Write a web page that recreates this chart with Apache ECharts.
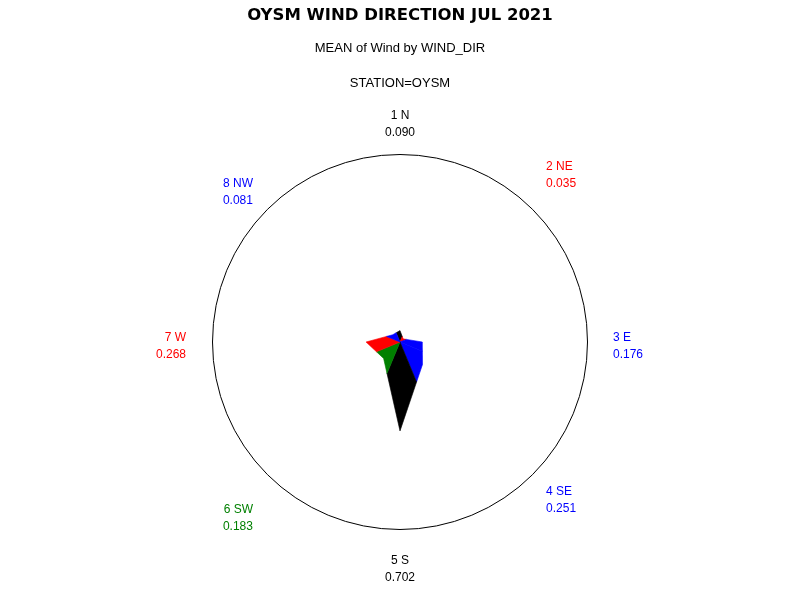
<!DOCTYPE html>
<html>
<head>
<meta charset="utf-8">
<script src="https://cdn.jsdelivr.net/npm/echarts@6/dist/echarts.min.js"></script>
<style>html,body{margin:0;padding:0;background:#fff}#c{width:800px;height:600px}</style>
</head>
<body>
<div id="c"></div>
<script>
// ---- data ----
var dirNames  = ['1 N', '2 NE', '3 E', '4 SE', '5 S', '6 SW', '7 W', '8 NW'];
var dirValues = [0.090, 0.035, 0.176, 0.251, 0.702, 0.183, 0.268, 0.081];
var dirLabels = ['0.090', '0.035', '0.176', '0.251', '0.702', '0.183', '0.268', '0.081'];
var dirColors = ['#000000', '#ff0000', '#0000ff', '#0000ff', '#000000', '#008000', '#ff0000', '#0000ff'];

// ---- layout (pixels, not data) ----
var RMAX = 1.48;
var labelRadiusPx = 215;
var polarRadiusPx = 187.5;
var labelNudge = [[0,-3],[-6,-15],[-2,4],[-6,6],[0,12],[5,24],[1,4],[5,2]];

var N = dirNames.length;
var step = 360 / N;
var seriesData = dirValues.map(function (v, i) { return [v, i * step, i]; });

function bisectR(r1, r2) {
  if (r1 + r2 === 0) return 0;
  return 2 * r1 * r2 * Math.cos(Math.PI / N) / (r1 + r2);
}

var chart = echarts.init(document.getElementById('c'));
chart.setOption({
  animation: false,
  backgroundColor: '#ffffff',
  title: [
    { text: 'OYSM WIND DIRECTION JUL 2021', left: 'center', top: 2,
      textStyle: { fontFamily: 'DejaVu Sans', fontWeight: 'bold', fontSize: 16.5, color: '#000' } },
    { text: 'MEAN of Wind by WIND_DIR', left: 'center', top: 37,
      textStyle: { fontFamily: 'Liberation Sans', fontWeight: 'normal', fontSize: 13, color: '#000' } },
    { text: 'STATION=OYSM', left: 'center', top: 72,
      textStyle: { fontFamily: 'Liberation Sans', fontWeight: 'normal', fontSize: 13, color: '#000' } }
  ],
  polar: { center: [400, 342], radius: polarRadiusPx },
  angleAxis: {
    type: 'value', min: 0, max: 360, startAngle: 90, clockwise: true,
    axisLine: { show: true, lineStyle: { color: '#000', width: 1 } },
    axisTick: { show: false }, axisLabel: { show: false }, splitLine: { show: false }
  },
  radiusAxis: {
    type: 'value', min: 0, max: RMAX,
    axisLine: { show: false }, axisTick: { show: false }, axisLabel: { show: false }, splitLine: { show: false }
  },
  series: [
    {
      type: 'custom', coordinateSystem: 'polar', silent: true,
      data: seriesData,
      renderItem: function (params, api) {
        var i = api.value(2);
        var v = api.value(0);
        var a = api.value(1);
        var prev = dirValues[(i - 1 + N) % N];
        var next = dirValues[(i + 1) % N];
        var c = api.coord([0, a]);
        var q1 = api.coord([bisectR(prev, v), a - step / 2]);
        var p = api.coord([v, a]);
        var q2 = api.coord([bisectR(v, next), a + step / 2]);
        return {
          type: 'polygon',
          shape: { points: [c, q1, p, q2] },
          style: { fill: dirColors[i], stroke: dirColors[i], lineWidth: 0.6, lineJoin: 'miter' }
        };
      }
    },
    {
      type: 'custom', coordinateSystem: 'polar', silent: true,
      data: seriesData,
      renderItem: function (params, api) {
        var i = api.value(2);
        var a = api.value(1);
        var pt = api.coord([RMAX * labelRadiusPx / polarRadiusPx, a]);
        var s = Math.sin(a * Math.PI / 180);
        var align = Math.abs(s) < 0.01 ? 'center' : (s > 0 ? 'left' : 'right');
        return {
          type: 'text',
          x: pt[0] + labelNudge[i][0],
          y: pt[1] + labelNudge[i][1],
          style: {
            text: dirNames[i] + '\n' + dirLabels[i],
            fill: dirColors[i],
            fontFamily: 'Liberation Sans',
            fontSize: 12,
            lineHeight: 17,
            align: align,
            verticalAlign: 'middle'
          }
        };
      }
    }
  ]
});
</script>
</body>
</html>
